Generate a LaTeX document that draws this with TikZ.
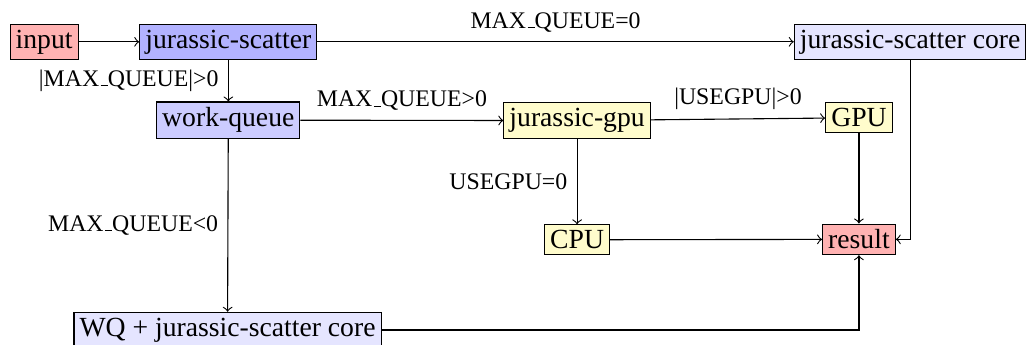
\documentclass[tikz,border=0pt]{standalone}
\usepackage{fontspec}
\setmainfont{Liberation Serif}
\usepackage{tikz}
\usetikzlibrary{arrows,positioning}
\newcommand{\usc}{\leavevmode\kern.06em\vbox{\hrule width.3em}}

\begin{document}
\begin{tikzpicture}
\tikzstyle{box}=[draw=black,inner sep=2pt,anchor=base];
\tikzstyle{redbox}=[box,fill=red!30];
\tikzstyle{bluebox}=[box,fill=blue!30];
\tikzstyle{queuebox}=[box,fill=blue!20];
\tikzstyle{corebox}=[box,fill=blue!10];
\tikzstyle{gpubox}=[box,fill=yellow!20];
\tikzstyle{cond}=[font=\fontsize{8.6pt}{10pt}\selectfont];
\useasboundingbox (0,0) rectangle (13.07,-4.38);
% first row
\node[redbox] (input) at (0.56,-0.61) {input};
\node[bluebox] (scatter) at (2.90,-0.61) {jurassic-scatter};
\node[corebox] (core) at (11.56,-0.61) {jurassic-scatter core};
% second row
\node[queuebox] (queue) at (2.90,-1.61) {work-queue};
\node[gpubox] (gpu) at (7.33,-1.61) {jurassic-gpu};
\node[gpubox] (GPU) at (10.91,-1.61) {GPU};
% third row
\node[gpubox] (CPU) at (7.33,-3.16) {CPU};
\node[redbox] (result) at (10.91,-3.16) {result};
% last row
\node[corebox] (wqcore) at (2.89,-4.27) {WQ + jurassic-scatter core};

\draw[->] (input) -- (scatter);
\draw[->] (scatter) -- node[above,cond] {MAX\usc QUEUE=0} (core);
\draw[->] (scatter) -- node[left,cond] {|MAX\usc QUEUE|>0} (queue);
\draw[->] (queue) -- node[above,cond] {MAX\usc QUEUE>0} (gpu);
\draw[->] (queue) -- node[left,cond] {MAX\usc QUEUE<0} (wqcore);
\draw[->] (gpu) -- node[above,cond] {|USEGPU|>0} (GPU);
\draw[->] (gpu) -- node[left,cond] {USEGPU=0} (CPU);
\draw[->] (GPU) -- (result);
\draw[->] (CPU) -- (result);
\draw[->] (core) |- (result);
\draw[->] (wqcore) -| (result);
\end{tikzpicture}
\end{document}
